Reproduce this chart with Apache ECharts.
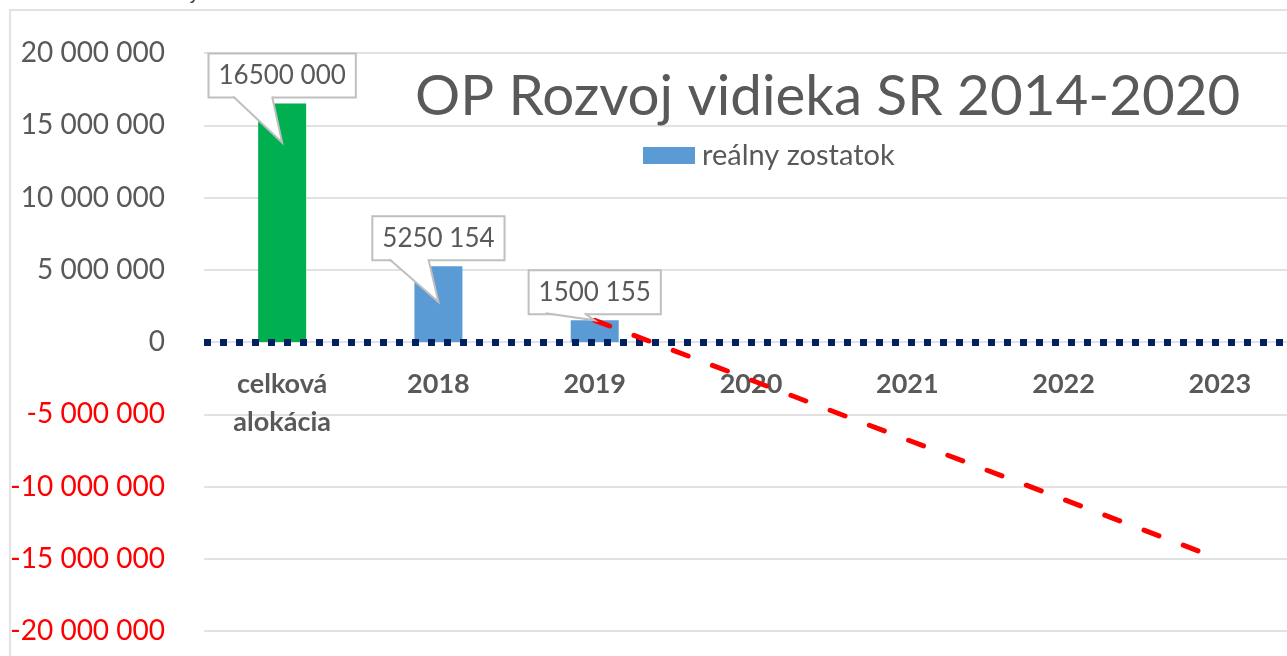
<!DOCTYPE html>
<html>
<head>
<meta charset="utf-8">
<script src="https://cdn.jsdelivr.net/npm/echarts@6/dist/echarts.min.js"></script>
<style>
    html, body { margin: 0; padding: 0; background: #fff; }
    #chart { width: 1287px; height: 656px; }
</style>
</head>
<body>
<div id="chart"></div>
<script>
// kategorie a hodnoty
const categories = ['celková\nalokácia', '2018', '2019', '2020', '2021', '2022', '2023']
const zostatok = [16500000, 5250154, 1500155, null, null, null, null]
// trend (cervena prerusovana ciara) - poloha na osi kategorii, hodnota
const trendX = [2, 5.86]
const trendY = [1500155, -14450000]
const yTicks = [-20000000, 20000000, 5000000]

const grey = '#595959'
const font = 'Lato'

function fmtAxis(v) {
    if (v === 0) return '0'
    const s = String(Math.abs(v)).replace(/\B(?=(\d{3})+(?!\d))/g, ' ')
    return (v < 0 ? '-' : '') + s
}
function fmtLabel(v) {
    const rest = String(v % 1000).padStart(3, '0')
    return Math.floor(v / 1000) + ' ' + rest
}

let chart = echarts.init(document.getElementById('chart'))
chart.setOption({
    animation: false,
    textStyle: { fontFamily: font },
    title: [
        {
            text: 'OP Rozvoj vidieka SR 2014-2020',
            left: 410,
            top: 63,
            textStyle: { fontFamily: font, fontSize: 56.5, fontWeight: 'normal', color: grey }
        }
    ],
    graphic: [
        {
            type: 'rect',
            shape: { x: 10, y: 10, width: 1400, height: 800 },
            style: { fill: 'none', stroke: '#d9d9d9', lineWidth: 1.5 },
            silent: true
        },
        {
            type: 'text',
            left: 104,
            top: -19,
            style: { text: 'OP Rozvoj vidieka SR 2014-2020', fill: '#404040', font: 'italic 22px Lato' }
        }
    ],
    legend: {
        data: ['reálny zostatok'],
        left: 643,
        top: 141,
        padding: 0,
        icon: 'rect',
        itemWidth: 52,
        itemHeight: 17,
        textStyle: { fontFamily: font, fontSize: 29, color: grey, padding: [0, 0, 0, 2] }
    },
    grid: { left: 204, top: 53, width: 1094, height: 578, outerBoundsMode: 'none' },
    xAxis: [
        {
            type: 'category',
            data: categories,
            z: 5,
            offset: -289,
            axisTick: { show: false },
            splitLine: { show: false },
            axisLine: {
                onZero: false,
                lineStyle: { color: '#002060', width: 7, type: [7, 9], cap: 'butt' }
            },
            axisLabel: {
                margin: 23,
                fontFamily: font,
                fontSize: 27,
                fontWeight: 'bold',
                color: grey,
                lineHeight: 38,
                verticalAlign: 'top'
            }
        },
        {
            type: 'value',
            min: -0.5,
            max: 6.5,
            show: false
        }
    ],
    yAxis: {
        type: 'value',
        min: yTicks[0],
        max: yTicks[1],
        interval: yTicks[2],
        axisLine: { show: false },
        axisTick: { show: false },
        splitLine: { lineStyle: { color: '#d9d9d9', width: 1.5 } },
        axisLabel: {
            margin: 39,
            fontFamily: font,
            fontSize: 28,
            formatter: fmtAxis,
            color: function (v) {
                return Number(v) < 0 ? '#ff0000' : grey
            }
        }
    },
    series: [
        {
            name: 'reálny zostatok',
            type: 'bar',
            barWidth: 48,
            color: '#5b9bd5',
            data: zostatok.map(function (v, i) {
                return i === 0 ? { value: v, itemStyle: { color: '#00b050' } } : v
            })
        },
        {
            name: 'trend',
            type: 'line',
            xAxisIndex: 1,
            z: 6,
            symbol: 'none',
            data: trendX.map(function (x, i) { return [x, trendY[i]] }),
            lineStyle: { color: '#ff0000', width: 5, type: [16, 26], cap: 'round' }
        },
        {
            name: 'popisky',
            type: 'custom',
            z: 7,
            data: zostatok.map(function (v, i) { return [i, v] }).filter(function (d) { return d[1] != null }),
            renderItem: function (params, api) {
                const i = api.value(0)
                const v = api.value(1)
                const top = api.coord([i, v])
                const base = api.coord([i, 0])
                const barH = base[1] - top[1]
                const boxBottom = top[1] - 7
                const tipY = top[1] + Math.max(0, Math.min(39, barH - 40))
                const cx = top[0]
                return {
                    type: 'group',
                    children: [
                        {
                            type: 'text',
                            x: cx,
                            y: boxBottom,
                            style: {
                                text: fmtLabel(v),
                                font: '26px Lato',
                                fill: grey,
                                align: 'center',
                                verticalAlign: 'bottom',
                                backgroundColor: '#fff',
                                borderColor: '#bfbfbf',
                                borderWidth: 2,
                                padding: [8, 9, 8, 9]
                            }
                        },
                        {
                            type: 'polygon',
                            shape: { points: [[cx - 49, boxBottom - 1], [cx, tipY], [cx - 10, boxBottom - 1]] },
                            style: { fill: '#fff', stroke: null }
                        },
                        {
                            type: 'polyline',
                            shape: { points: [[cx - 49, boxBottom], [cx, tipY], [cx - 10, boxBottom]] },
                            style: { fill: null, stroke: '#bfbfbf', lineWidth: 2 }
                        }
                    ]
                }
            }
        }
    ]
})
window.addEventListener('resize', () => {
    chart.resize()
})
</script>
</body>
</html>
